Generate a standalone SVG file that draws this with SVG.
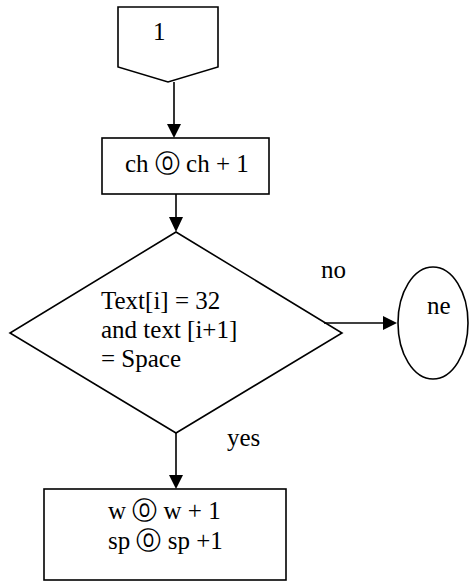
<svg xmlns="http://www.w3.org/2000/svg" width="469" height="582" viewBox="0 0 469 582">
<style>
.s{fill:#fff;stroke:#000;stroke-width:1.6}
.c line{stroke:#000;stroke-width:1.6}
.c polygon{fill:#000}
.t{font-family:"Liberation Serif","Times New Roman","DejaVu Serif",serif;font-size:25px;fill:#000}
</style>
<rect width="469" height="582" fill="#fff"/>
<g id="n1">
<path class="s" d="M118,7 L218,7 L218,67 L168,82 L118,67 Z"/>
<text class="t" x="153" y="40">1</text>
</g>
<g id="n2">
<rect class="s" x="102" y="138" width="167" height="56"/>
<text class="t" x="125" y="172">ch ⓪ ch + 1</text>
</g>
<g id="n3">
<path class="s" d="M176,232 L342,333 L176,433 L10,333 Z"/>
<text class="t" x="101" y="309">Text[i] = 32</text>
<text class="t" x="101" y="338">and text [i+1]</text>
<text class="t" x="101" y="367">= Space</text>
</g>
<g id="n4">
<ellipse class="s" cx="433" cy="323" rx="35" ry="56"/>
<text class="t" x="427" y="314">ne</text>
</g>
<g id="n5">
<rect class="s" x="44" y="489" width="242" height="91"/>
<text class="t" x="108" y="519">w ⓪ w + 1</text>
<text class="t" x="108" y="549">sp ⓪ sp +1</text>
</g>
<g id="connectors" class="c">
<line x1="174" y1="82" x2="174" y2="125"/>
<polygon points="167,124 181,124 174,138"/>
<line x1="176" y1="194" x2="176" y2="218"/>
<polygon points="169,217 183,217 176,232"/>
<line x1="324" y1="323" x2="384" y2="323"/>
<polygon points="383,316 383,330 397,323"/>
<line x1="176" y1="433" x2="176" y2="476"/>
<polygon points="169,475 183,475 176,489"/>
<text class="t" x="321" y="278">no</text>
<text class="t" x="227" y="446">yes</text>
</g>
</svg>
